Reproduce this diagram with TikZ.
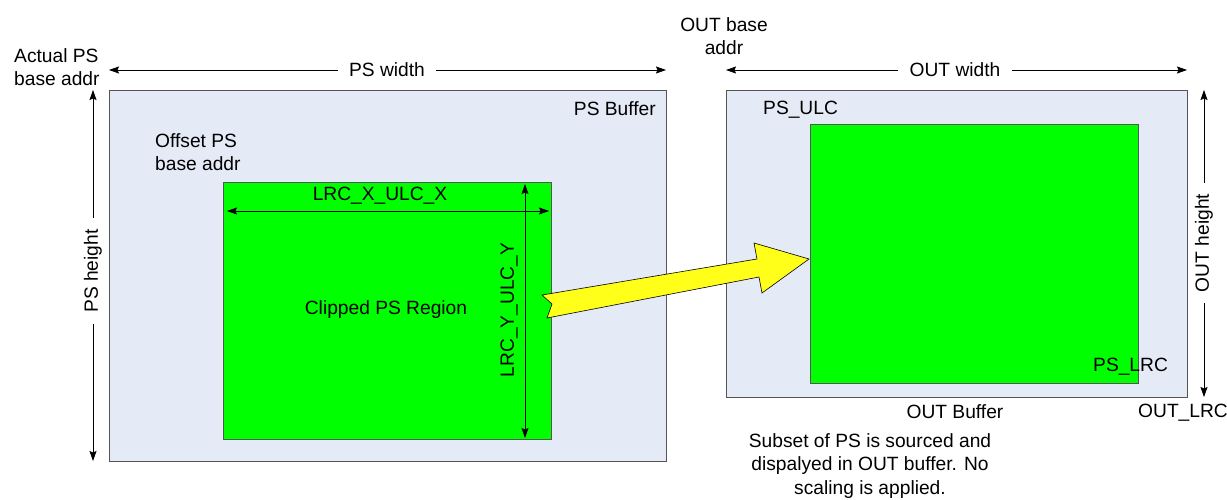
\documentclass[tikz,border=0pt]{standalone}
\usepackage{fontspec}
\setmainfont{Liberation Sans}
\usetikzlibrary{arrows.meta}
\definecolor{bufblue}{HTML}{E5EBF6}
\definecolor{clipgreen}{HTML}{00FF00}
\definecolor{arrowyellow}{HTML}{FFFF1A}
\definecolor{edgegray}{HTML}{555555}
\begin{document}
\begin{tikzpicture}[x=1pt,y=-1pt,
  buf/.style={draw=edgegray, fill=bufblue, line width=0.9pt, anchor=north west, inner sep=0pt, outer sep=0pt},
  clip/.style={draw=edgegray, fill=clipgreen, line width=0.9pt, anchor=north west, inner sep=0pt, outer sep=0pt},
  lbl/.style={font=\fontsize{19.2}{23.5}\selectfont, inner sep=0pt},
  gaplbl/.style={lbl, inner xsep=11pt},
  dim/.style={-{Stealth[length=10pt,width=7pt,inset=1.5pt]}, line width=0.7pt},
  dimboth/.style={{Stealth[length=10pt,width=7pt,inset=1.5pt]}-{Stealth[length=10pt,width=7pt,inset=1.5pt]}, line width=0.7pt},
]
\useasboundingbox (0,0) rectangle (1227,500);

% buffers
\node[buf, minimum width=557pt, minimum height=371pt] (psbuf) at (109,90) {};
\node[buf, minimum width=461pt, minimum height=307pt] (outbuf) at (726,90) {};
\node[clip, minimum width=328pt, minimum height=257pt] (psclip) at (223,182) {};
\node[clip, minimum width=328pt, minimum height=259pt] (outclip) at (810,124) {};

% yellow transfer arrow
\draw[fill=arrowyellow, draw=black, line width=0.6pt]
  (542,295) -- (757,259) -- (754,243) -- (809,259) -- (762,293) -- (759,277) -- (547,318) -- (552,304) -- cycle;

% text labels
\node[lbl, align=left, anchor=west] (actual) at (14,67) {Actual PS\\base addr};
\node[lbl, align=center] (outbase) at (724,36) {OUT base\\addr};
\node[lbl, anchor=east] (psbuflbl) at (656,109) {PS Buffer};
\node[lbl, align=left, anchor=west] (offset) at (155,152) {Offset PS\\base addr};
\node[lbl] (cliplbl) at (386,310) {Clipped PS Region};
\node[lbl, anchor=west] (psulc) at (763,110) {PS\_ULC};
\node[lbl, anchor=west] (pslrc) at (1093,367) {PS\_LRC};
\node[lbl] (outbuflbl) at (955,412) {OUT Buffer};
\node[lbl, anchor=west] (outlrc) at (1138,413) {OUT\_LRC};
\node[lbl, align=center] (note) at (870,466) {Subset of PS is sourced and\\dispalyed in OUT buffer. No\\scaling is applied.};

% PS width
\coordinate (psw1) at (109,70);
\coordinate (psw2) at (666,70);
\node[gaplbl] (pswl) at (387,70) {PS width};
\draw[dim] (pswl.west) -- (psw1);
\draw[dim] (pswl.east) -- (psw2);

% OUT width
\coordinate (ow1) at (726,70);
\coordinate (ow2) at (1187,70);
\node[gaplbl] (owl) at (955,70) {OUT width};
\draw[dim] (owl.west) -- (ow1);
\draw[dim] (owl.east) -- (ow2);

% PS height
\coordinate (psh1) at (93,90);
\coordinate (psh2) at (93,461);
\node[gaplbl, rotate=90] (pshl) at (93,271) {PS height};
\draw[dim] (pshl.east) -- (psh1);
\draw[dim] (pshl.west) -- (psh2);

% OUT height
\coordinate (oh1) at (1204,90);
\coordinate (oh2) at (1204,397);
\node[gaplbl, rotate=90] (ohl) at (1204,243) {OUT height};
\draw[dim] (ohl.east) -- (oh1);
\draw[dim] (ohl.west) -- (oh2);

% LRC_X_ULC_X
\coordinate (lx1) at (227,211);
\coordinate (lx2) at (549,211);
\draw[dimboth] (lx1) -- (lx2);
\node[lbl] (lxl) at (380,196) {LRC\_X\_ULC\_X};

% LRC_Y_ULC_Y
\coordinate (ly1) at (525,184);
\coordinate (ly2) at (525,438);
\draw[dimboth] (ly1) -- (ly2);
\node[lbl, rotate=90] (lyl) at (509,310) {LRC\_Y\_ULC\_Y};
\end{tikzpicture}
\end{document}
